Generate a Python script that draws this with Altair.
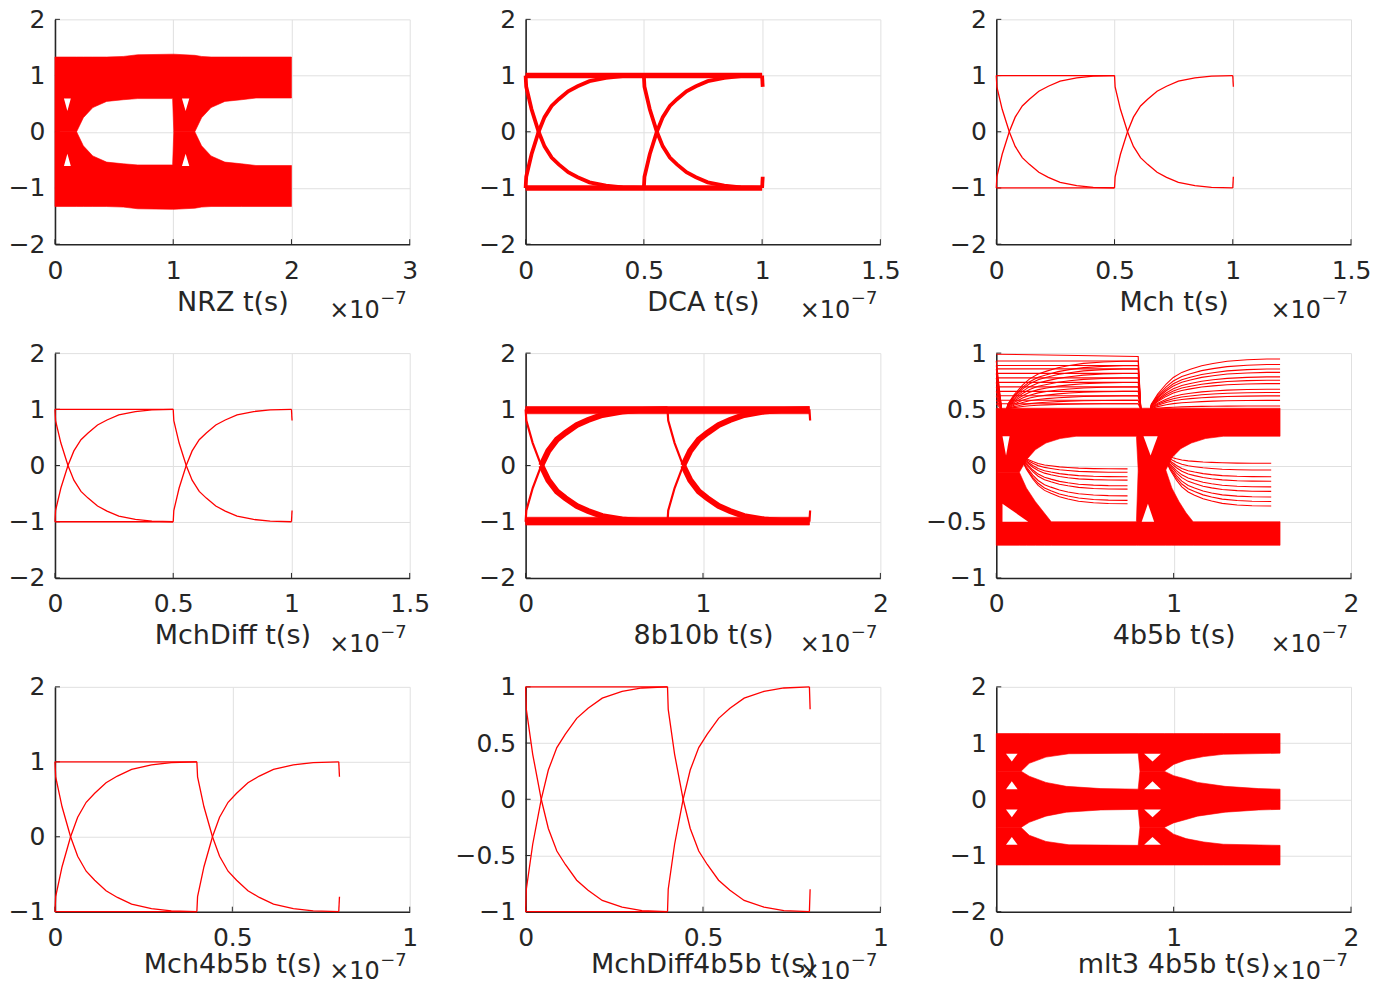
import altair as alt
import pandas as pd

FONT = "DejaVu Sans"
INK = "#262626"
GRID = "#e0e0e0"
RED = "#ff0000"
WHITE = "#ffffff"
PANEL_W, PANEL_H = 355, 225

# normalised settling shape of one transition (fraction of the step done vs fraction of bit time)
SHAPE_T = [0, 0.005, 0.05, 0.11, 0.16, 0.22, 0.28, 0.36, 0.44, 0.54, 0.68, 0.82, 1.0]
SHAPE_F = [0, 0.1, 0.3, 0.5, 0.63, 0.73, 0.79, 0.86, 0.905, 0.95, 0.98, 0.995, 1.0]

TITLES = ["NRZ t(s)", "DCA t(s)", "Mch t(s)", "MchDiff t(s)", "8b10b t(s)", "4b5b t(s)",
          "Mch4b5b t(s)", "MchDiff4b5b t(s)", "mlt3 4b5b t(s)"]
X_MAX = [3, 1.5, 1.5, 1.5, 2, 2, 1, 1, 2]
X_TICKS = [[0, 1, 2, 3], [0, 0.5, 1, 1.5], [0, 0.5, 1, 1.5], [0, 0.5, 1, 1.5], [0, 1, 2],
           [0, 1, 2], [0, 0.5, 1], [0, 0.5, 1], [0, 1, 2]]
Y_LIM = [[-2, 2], [-2, 2], [-2, 2], [-2, 2], [-2, 2], [-1, 1], [-1, 2], [-1, 1], [-2, 2]]
Y_TICKS = [[-2, -1, 0, 1, 2]] * 5 + [[-1, -0.5, 0, 0.5, 1], [-1, 0, 1, 2],
                                     [-1, -0.5, 0, 0.5, 1], [-2, -1, 0, 1, 2]]

# ---- NRZ eye (filled band) ----
NRZ_X = [0, 0.183, 0.24, 0.32, 0.437, 0.578, 0.7, 0.995, 1.005, 1.183, 1.24, 1.32, 1.437, 1.578, 1.7, 2.0]
NRZ_OUT = [1.33, 1.33, 1.33, 1.33, 1.33, 1.34, 1.37, 1.38, 1.38, 1.36, 1.34, 1.33, 1.33, 1.33, 1.33, 1.33]
NRZ_IN = [0, 0, 0.25, 0.43, 0.54, 0.57, 0.59, 0.59, 0, 0, 0.25, 0.43, 0.54, 0.57, 0.6, 0.6]
NRZ_HOLE_X = [[0.076, 0.134], [1.074, 1.136]]
NRZ_HOLE_Y = [[0.59, 0.37], [-0.61, -0.39]]  # base, apex

# ---- Manchester family ----
MCH_T = 0.5
M45_T = 0.4
B8_T = 0.8

# ---- 8b10b bands ----
B8_BAND_TOP = [1.05, 0.92]
B8_BAND_BOT = [-0.92, -1.06]

# ---- 4b5b ----
FB_OUT = [0.51, -0.71]
FB_TOP_X = [0, 0.13, 0.17, 0.22, 0.28, 0.36, 0.45, 0.79, 0.80, 0.956, 0.99, 1.04, 1.10, 1.18, 1.28, 1.6]
FB_TOP_Y = [-0.06, -0.06, 0.05, 0.14, 0.2, 0.24, 0.26, 0.26, -0.04, -0.04, 0.07, 0.15, 0.2, 0.24, 0.26, 0.26]
FB_BOT_X = [0, 0.13, 0.17, 0.22, 0.27, 0.31, 0.79, 0.80, 0.956, 0.99, 1.03, 1.07, 1.11, 1.6]
FB_BOT_Y = [-0.06, -0.06, -0.2, -0.32, -0.42, -0.5, -0.5, -0.04, -0.04, -0.2, -0.32, -0.42, -0.5, -0.5]
FB_HI_LEFT = [0.93, 0.89, 0.86, 0.82, 0.78, 0.74, 0.70, 0.66, 0.62, 0.58, 0.55]
FB_HI_RIGHT = [0.95, 0.90, 0.86, 0.83, 0.79, 0.76, 0.73, 0.68, 0.65, 0.62, 0.58, 0.53]
FB_EYE1 = [-0.03, -0.06, -0.10, -0.13, -0.18, -0.21, -0.27, -0.31, -0.34]
FB_EYE2 = [0.02, -0.04, -0.10, -0.14, -0.19, -0.23, -0.28, -0.32, -0.36]
FB_TOPLINE = [0.99, 0.97]

# ---- mlt3 ----
ML_OUT = 1.17
ML_UT_X = [0, 0.14, 0.186, 0.28, 0.41, 0.80, 0.81, 0.947, 1.0, 1.07, 1.17, 1.28, 1.6]
ML_UT_Y = [0.5, 0.5, 0.64, 0.75, 0.81, 0.82, 0.5, 0.5, 0.62, 0.7, 0.76, 0.8, 0.82]
ML_UB_X = [0, 0.14, 0.186, 0.28, 0.395, 0.59, 0.80, 0.81, 0.947, 1.0, 1.07, 1.135, 1.29, 1.48, 1.6]
ML_UB_Y = [0.5, 0.5, 0.41, 0.3, 0.23, 0.19, 0.18, 0.5, 0.5, 0.42, 0.36, 0.3, 0.23, 0.19, 0.18]
ML_HOLE_X = [[0.055, 0.12], [0.834, 0.928]]
ML_HOLE_Y = [[0.81, 0.67], [0.18, 0.32], [-0.18, -0.32], [-0.81, -0.67]]


def trans(x0, T, y0, y1, xcut=None):
    pts = []
    for t, f in zip(SHAPE_T, SHAPE_F):
        x = x0 + t * T
        if xcut is not None and x > xcut:
            pts.append((xcut, pts[-1][1]))
            break
        pts.append((x, y0 + f * (y1 - y0)))
    return pts


class Panel:
    def __init__(self):
        self.red = []
        self.white = []
        self.lines = {}
        self.n = 0

    def area(self, xs, ys, y2s, white=False):
        self.n += 1
        target = self.white if white else self.red
        for x, y, y2 in zip(xs, ys, y2s):
            target.append({"id": self.n, "x": x, "y": y, "y2": y2})

    def tri(self, xa, xb, ybase, yapex):
        self.area([xa, (xa + xb) / 2, xb], [ybase, yapex, ybase], [ybase] * 3, white=True)

    def line(self, pts, w):
        self.n += 1
        rows = self.lines.setdefault(w, [])
        for i, (x, y) in enumerate(pts):
            rows.append({"id": self.n, "i": i, "x": x, "y": y})


def manchester(T, end, full_hold, w_curve, w_hold):
    p = Panel()
    hold_end = end if full_hold else T
    p.line([(0, 1), (hold_end, 1)], w_hold)
    p.line([(0, -1), (hold_end, -1)], w_hold)
    for x0 in (0, T):
        p.line(trans(x0, T, 1, -1), w_curve)
        p.line(trans(x0, T, -1, 1), w_curve)
    p.line(trans(end, T, 1, -1)[:2], w_curve)
    p.line(trans(end, T, -1, 1)[:2], w_curve)
    return p


# NRZ
nrz = Panel()
nrz.area(NRZ_X, NRZ_OUT, NRZ_IN)
nrz.area(NRZ_X, [-v for v in NRZ_OUT], [-v for v in NRZ_IN])
for xa, xb in NRZ_HOLE_X:
    for yb, ya in NRZ_HOLE_Y:
        nrz.tri(xa, xb, yb, ya)

dca = manchester(MCH_T, 1.0, True, 3.8, 5.5)
mch = manchester(MCH_T, 1.0, False, 1.3, 1.3)
mchd = manchester(MCH_T, 1.0, False, 1.3, 1.3)
m45 = manchester(M45_T, 0.8, False, 1.3, 1.3)
md45 = manchester(M45_T, 0.8, False, 1.3, 1.3)

# 8b10b
b8 = Panel()
b8.area([0, 1.6], [B8_BAND_TOP[0]] * 2, [B8_BAND_TOP[1]] * 2)
b8.area([0, 1.6], [B8_BAND_BOT[0]] * 2, [B8_BAND_BOT[1]] * 2)
for x0 in (0, B8_T):
    for y0, y1 in ((1, -1), (-1, 1)):
        pts = trans(x0, B8_T, y0, y1)
        b8.line(pts[:4], 2.2)
        b8.line(pts[3:], 6)
b8.line(trans(1.6, B8_T, 1, -1)[:2], 2.2)
b8.line(trans(1.6, B8_T, -1, 1)[:2], 2.2)

# 4b5b
fb = Panel()
fb.area(FB_TOP_X, [FB_OUT[0]] * len(FB_TOP_X), FB_TOP_Y)
fb.area(FB_BOT_X, FB_BOT_Y, [FB_OUT[1]] * len(FB_BOT_X))
fb.tri(0.035, 0.075, 0.26, 0.09)
fb.tri(0.83, 0.91, 0.26, 0.09)
fb.tri(0.82, 0.89, -0.5, -0.34)
fb.area([0.035, 0.18], [-0.34, -0.5], [-0.5, -0.5], white=True)
for L in FB_HI_LEFT:
    fb.line([(0, L), (0.8, L)], 1.1)
    fb.line(trans(0.06, 0.8, 0.5, L, xcut=0.8), 1.1)
    fb.line([(0, L), (0.03, 0.5)], 1.1)
    fb.line([(0.8, L), (0.815, 0.5)], 1.1)
for L in FB_HI_RIGHT:
    fb.line(trans(0.87, 0.8, 0.5, L, xcut=1.6), 1.1)
fb.line([(0, FB_TOPLINE[0]), (0.8, FB_TOPLINE[1]), (0.815, 0.5)], 1.1)
for L in FB_EYE1:
    fb.line(trans(0.14, 0.6, 0.1, L, xcut=0.8), 1.1)
for L in FB_EYE2:
    fb.line(trans(0.95, 0.6, 0.1, L, xcut=1.6), 1.1)

# mlt3
ml = Panel()
ml.area(ML_UT_X, [ML_OUT] * len(ML_UT_X), ML_UT_Y)
ml.area(ML_UB_X, ML_UB_Y, [-v for v in ML_UB_Y])
ml.area(ML_UT_X, [-v for v in ML_UT_Y], [-ML_OUT] * len(ML_UT_X))
for xa, xb in ML_HOLE_X:
    for yb, ya in ML_HOLE_Y:
        ml.tri(xa, xb, yb, ya)

PANELS = [nrz, dca, mch, mchd, b8, fb, m45, md45, ml]


def build(k):
    p = PANELS[k]
    last_row = k >= 6
    xenc = alt.X("x:Q", scale=alt.Scale(domain=[0, X_MAX[k]], nice=False, zero=False),
                 axis=alt.Axis(values=X_TICKS[k], title=TITLES[k], format="~g",
                               titlePadding=1 if last_row else 6))
    yenc = alt.Y("y:Q", scale=alt.Scale(domain=Y_LIM[k], nice=False, zero=False),
                 axis=alt.Axis(values=Y_TICKS[k], title=None, format="~g"), stack=None)
    layers = []
    layers.append(alt.Chart(pd.DataFrame({"y": Y_TICKS[k]})).mark_rule(color=INK, strokeWidth=1)
                  .encode(y=yenc, x=alt.value(0), x2=alt.value(5)))
    layers.append(alt.Chart(pd.DataFrame({"x": X_TICKS[k]})).mark_rule(color=INK, strokeWidth=1)
                  .encode(x=xenc, y=alt.value(PANEL_H), y2=alt.value(PANEL_H - 5)))
    if p.red:
        layers.append(alt.Chart(pd.DataFrame(p.red)).mark_area(color=RED, stroke=RED, strokeWidth=0.6)
                      .encode(x=xenc, y=yenc, y2="y2:Q", detail="id:N"))
    if p.white:
        layers.append(alt.Chart(pd.DataFrame(p.white)).mark_area(color=WHITE)
                      .encode(x=xenc, y=yenc, y2="y2:Q", detail="id:N"))
    for w, rows in p.lines.items():
        layers.append(alt.Chart(pd.DataFrame(rows)).mark_line(color=RED, strokeWidth=w)
                      .encode(x=xenc, y=yenc, detail="id:N", order="i:Q"))
    base_off = 67 if last_row else 74
    sup_off = 54 if last_row else 60
    layers.append(alt.Chart(pd.DataFrame({"t": ["×10"]})).mark_text(
        align="right", baseline="alphabetic", font=FONT, fontSize=24, color=INK)
        .encode(x=alt.value(PANEL_W - 30), y=alt.value(PANEL_H + base_off), text="t:N"))
    layers.append(alt.Chart(pd.DataFrame({"t": ["−7"]})).mark_text(
        align="right", baseline="alphabetic", font=FONT, fontSize=18, color=INK)
        .encode(x=alt.value(PANEL_W - 3), y=alt.value(PANEL_H + sup_off), text="t:N"))
    return alt.layer(*layers).properties(width=PANEL_W, height=PANEL_H)


chart = (
    alt.concat(*[build(k) for k in range(9)], columns=3,
               spacing={"row": 109, "column": 116}, bounds="flush")
    .properties(padding={"left": 0, "top": -1, "right": -1, "bottom": -2})
    .configure_view(stroke=None)
    .configure_axis(labelFont=FONT, labelFontSize=25, labelColor=INK, titleFont=FONT,
                    titleFontSize=27, titleFontWeight="normal", titleColor=INK,
                    domainColor=INK, domainWidth=1.6, gridColor=GRID, gridWidth=1,
                    ticks=False, tickSize=0, labelFlush=False, labelOverlap=False,
                    labelPadding=10)
    .configure_axisX(labelPadding=14)
)

chart.save("out.html", embed_options={"renderer": "svg", "actions": False})
